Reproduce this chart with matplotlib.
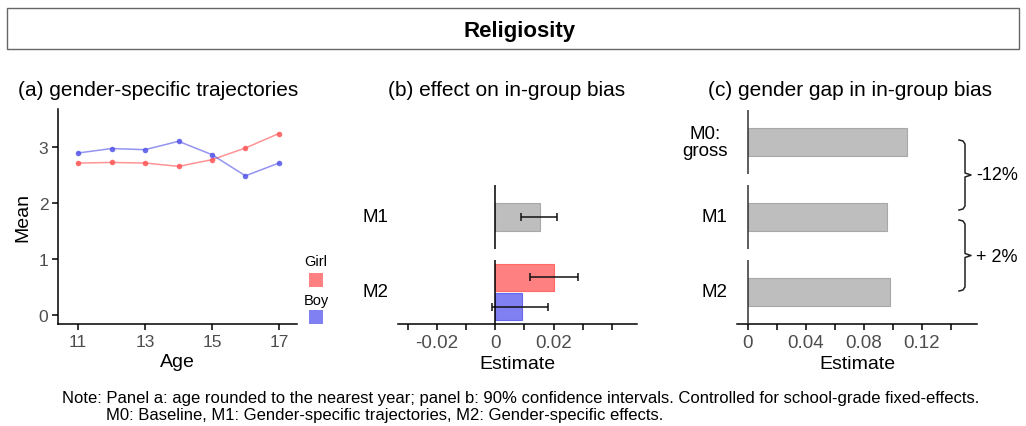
import numpy as np
import matplotlib
matplotlib.use("Agg")
import matplotlib.pyplot as plt
from matplotlib.patches import Rectangle
from matplotlib.lines import Line2D

plt.rcParams['font.family'] = ['Liberation Sans', 'DejaVu Sans']

# data
ages = [11, 12, 13, 14, 15, 16, 17]
girl_mean = [2.72, 2.73, 2.72, 2.66, 2.78, 2.99, 3.25]
boy_mean = [2.90, 2.98, 2.96, 3.11, 2.87, 2.49, 2.72]

b_models = ["M1", "M2"]
m1_est, m1_lo, m1_hi = 0.0152, 0.0089, 0.0211
m2_girl_est, m2_girl_lo, m2_girl_hi = 0.0202, 0.0119, 0.0282
m2_boy_est, m2_boy_lo, m2_boy_hi = 0.0091, -0.0010, 0.0182

c_models = ["M0:\ngross", "M1", "M2"]
c_gap = [0.1095, 0.0962, 0.0980]
brace_labels = ["-12%", "+ 2%"]

RED = "#FF8080"
BLUE = "#8080F2"
GREY = "#BEBEBE"
TICKGREY = "#4D4D4D"

W, H = 1026, 427
fig = plt.figure(figsize=(W / 100, H / 100), dpi=100)


def box(x0, y0, x1, y1):
    return [x0 / W, 1 - y1 / H, (x1 - x0) / W, (y1 - y0) / H]


def fx(x):
    return x / W


def fy(y):
    return 1 - y / H


def style_axes(ax, left=True, bottom=True, ticksize=13.5):
    for s in ["top", "right"]:
        ax.spines[s].set_visible(False)
    ax.spines["left"].set_visible(left)
    ax.spines["bottom"].set_visible(bottom)
    for s in ["left", "bottom"]:
        ax.spines[s].set_linewidth(1.1)
        ax.spines[s].set_color("black")
    ax.tick_params(length=4, width=1.1, color="black", labelcolor=TICKGREY,
                   labelsize=ticksize, pad=3)


# title box
fig.patches.append(Rectangle((fx(7), fy(50)), fx(1012), 41 / H, transform=fig.transFigure,
                             fill=False, edgecolor="#666666", linewidth=1))
fig.text(fx(520), fy(31), "Religiosity", ha="center", va="center",
         fontsize=16, fontweight="bold")

# subtitles
fig.text(fx(18), fy(90), "(a) gender-specific trajectories", ha="left", va="center", fontsize=15)
fig.text(fx(388), fy(90), "(b) effect on in-group bias", ha="left", va="center", fontsize=15)
fig.text(fx(708), fy(90), "(c) gender gap in in-group bias", ha="left", va="center", fontsize=15)

# panel a
ax = fig.add_axes(box(58, 110, 297, 325))
ax.plot(ages, girl_mean, color="#FF4D4D", alpha=0.6, lw=1.1)
ax.plot(ages, boy_mean, color="#4D4DE6", alpha=0.6, lw=1.1)
ax.scatter(ages, girl_mean, color="#FF5555", s=16, zorder=3, alpha=0.85, linewidths=0)
ax.scatter(ages, boy_mean, color="#5555E8", s=16, zorder=3, alpha=0.85, linewidths=0)
ax.set_xlim(10.40, 17.54)
ax.set_ylim(-0.17, 3.69)
ax.set_xticks([11, 13, 15, 17])
ax.set_yticks([0, 1, 2, 3])
style_axes(ax, ticksize=12.5)
ax.set_xlabel("Age", fontsize=14, labelpad=3)
ax.set_ylabel("Mean", fontsize=14, labelpad=5)

# legend for panel a
fig.text(fx(316), fy(262), "Girl", ha="center", va="center", fontsize=10.5)
fig.patches.append(Rectangle((fx(309), fy(288)), 14 / W, 14 / H, transform=fig.transFigure,
                             facecolor=RED, edgecolor="none"))
fig.text(fx(316), fy(301), "Boy", ha="center", va="center", fontsize=10.5)
fig.patches.append(Rectangle((fx(309), fy(325)), 14 / W, 14 / H, transform=fig.transFigure,
                             facecolor=BLUE, edgecolor="none"))

# panel b: facets
bxlim = (-0.0334, 0.0486)
bh = 0.86
ax1 = fig.add_axes(box(398, 186, 637, 250))
ax1.barh([0], [m1_est], height=bh, color=GREY, edgecolor="#A8A8A8", lw=0.8)
ax1.errorbar([m1_est], [0], xerr=[[m1_est - m1_lo], [m1_hi - m1_est]], fmt="none",
             ecolor="#111111", elinewidth=1.1, capsize=3, capthick=1.1)
ax2 = fig.add_axes(box(398, 261, 637, 325))
ax2.barh([0.46], [m2_girl_est], height=bh, color=RED, edgecolor="#FF6666", lw=0.8)
ax2.barh([-0.46], [m2_boy_est], height=bh, color=BLUE, edgecolor="#6666EE", lw=0.8)
ax2.errorbar([m2_girl_est, m2_boy_est], [0.46, -0.46],
             xerr=[[m2_girl_est - m2_girl_lo, m2_boy_est - m2_boy_lo],
                   [m2_girl_hi - m2_girl_est, m2_boy_hi - m2_boy_est]],
             fmt="none", ecolor="#111111", elinewidth=1.1, capsize=3, capthick=1.1)
for a, lab in zip([ax1, ax2], b_models):
    a.axvline(0, color="black", lw=1.1, zorder=4)
    a.set_xlim(*bxlim)
    a.set_ylim(-1, 1)
    a.set_yticks([])
    style_axes(a, left=False, bottom=(a is ax2))
    a.text(-0.04, 0.5, lab, transform=a.transAxes, ha="right", va="center", fontsize=13.5)
ax1.set_xticks([])
ax2.set_xticks(np.arange(-0.03, 0.041, 0.01))
ax2.set_xticklabels(["", "-0.02", "", "0", "", "0.02", "", ""])
ax2.set_xlabel("Estimate", fontsize=14, labelpad=3)

# panel c: facets
cxlim = (-0.0073, 0.158)
rows = [(111, 175), (186, 250), (261, 325)]
for i, (y0, y1) in enumerate(rows):
    a = fig.add_axes(box(737, y0, 977, y1))
    a.barh([0], [c_gap[i]], height=bh, color=GREY, edgecolor="#A8A8A8", lw=0.8)
    a.axvline(0, color="#333333", lw=1.1, zorder=4)
    a.set_xlim(*cxlim)
    a.set_ylim(-1, 1)
    a.set_yticks([])
    last = i == len(rows) - 1
    style_axes(a, left=False, bottom=last)
    a.text(-0.04, 0.5, c_models[i], transform=a.transAxes, ha="right", va="center",
           fontsize=13.5, multialignment="center", linespacing=1.0)
    if last:
        a.set_xticks(np.arange(0, 0.141, 0.02))
        a.set_xticklabels(["0", "", "0.04", "", "0.08", "", "0.12", ""])
        a.set_xlabel("Estimate", fontsize=14, labelpad=3)
    else:
        a.set_xticks([])


# braces
def brace(y0, y1, x=965):
    xs = [x - 6, x - 2, x, x, x + 6, x, x, x - 2, x - 6]
    ym = (y0 + y1) / 2
    ys = [y0, y0 + 1, y0 + 4, ym - 2, ym, ym + 2, y1 - 4, y1 - 1, y1]
    fig.add_artist(Line2D([fx(v) for v in xs], [fy(v) for v in ys],
                          transform=fig.transFigure, color="#222222", lw=1.1))


brace(141, 211)
brace(221, 292)
fig.text(fx(976), fy(176), brace_labels[0], ha="left", va="center", fontsize=13)
fig.text(fx(976), fy(257), brace_labels[1], ha="left", va="center", fontsize=13)

# note
fig.text(fx(62), fy(399),
         "Note: Panel a: age rounded to the nearest year; panel b: 90% confidence intervals. "
         "Controlled for school-grade fixed-effects.", ha="left", va="center", fontsize=12)
fig.text(fx(106), fy(416), "M0: Baseline, M1: Gender-specific trajectories, M2: Gender-specific effects.",
         ha="left", va="center", fontsize=12)

fig.savefig("out.png", dpi=100)
